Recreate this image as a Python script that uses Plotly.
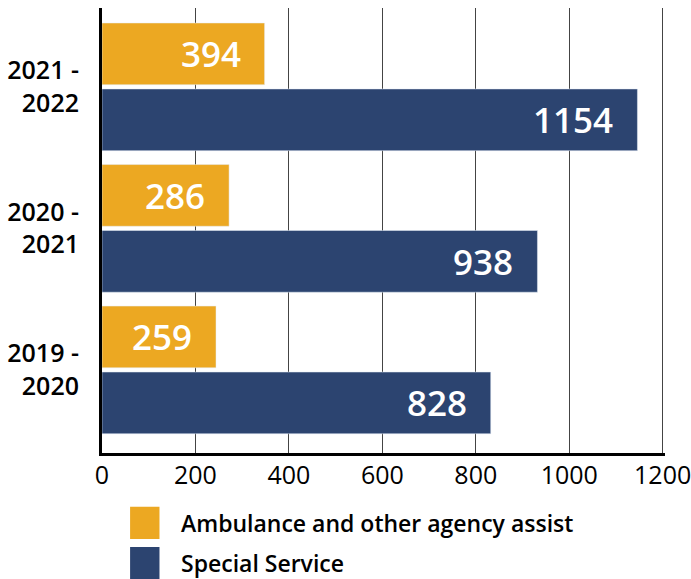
import plotly.graph_objects as go

# ---- data ----
periods = ["2019 -<br>2020", "2020 -<br>2021", "2021 -<br>2022"]
series_names = ["Ambulance and other agency assist", "Special Service"]
ambulance_bar = [244, 272, 348]        # bar lengths as drawn
ambulance_labels = ["259", "286", "394"]
special_bar = [832, 932, 1146]
special_labels = ["828", "938", "1154"]
x_ticks = [0, 200, 400, 600, 800, 1000, 1200]

ORANGE = "#ECA822"
NAVY = "#2C4470"
FONT = "Open Sans"
W = 600

fig = go.Figure()
fig.add_trace(go.Bar(y=periods, x=special_bar, orientation="h", marker_color=NAVY,
                     width=0.436, offset=-0.451, name=series_names[1], showlegend=False))
fig.add_trace(go.Bar(y=periods, x=ambulance_bar, orientation="h", marker_color=ORANGE,
                     width=0.436, offset=0.015, name=series_names[0], showlegend=False))

annotations = []
for p, v, t in zip(periods, ambulance_bar, ambulance_labels):
    annotations.append(dict(x=v, y=p, xref="x", yref="y", text=t, showarrow=False,
                            xanchor="right", yanchor="middle", xshift=-22, yshift=33,
                            font=dict(family=FONT, size=35, color="white", weight=W)))
for p, v, t in zip(periods, special_bar, special_labels):
    annotations.append(dict(x=v, y=p, xref="x", yref="y", text=t, showarrow=False,
                            xanchor="right", yanchor="middle", xshift=-22, yshift=-33,
                            font=dict(family=FONT, size=35, color="white", weight=W)))

# manual legend
legend_y = [-0.157, -0.247]
legend_colors = [ORANGE, NAVY]
shapes = []
for name, col, yc in zip(series_names, legend_colors, legend_y):
    shapes.append(dict(type="rect", xref="paper", yref="paper",
                       x0=0.0499, x1=0.1021, y0=yc - 0.036, y1=yc + 0.036,
                       fillcolor=col, line=dict(width=0)))
    annotations.append(dict(x=0.1373, y=yc, xref="paper", yref="paper", text=name,
                            showarrow=False, xanchor="left", yanchor="middle",
                            font=dict(family=FONT, size=23, color="black", weight=W)))

fig.update_layout(
    width=691, height=579,
    margin=dict(l=102, r=26, t=8, b=126),
    plot_bgcolor="white", paper_bgcolor="white",
    barmode="overlay",
    font=dict(family=FONT, color="black"),
    annotations=annotations, shapes=shapes,
    showlegend=False,
)
fig.update_xaxes(range=[0, 1205], tickvals=x_ticks, ticktext=[str(v) for v in x_ticks],
                 showgrid=True, gridcolor="#444", gridwidth=1.2,
                 showline=True, linecolor="black", linewidth=3,
                 zeroline=False, ticks="", ticklabelstandoff=-2,
                 ticklabeloverflow="allow", automargin=False,
                 tickfont=dict(family=FONT, size=25, color="black"))
fig.update_yaxes(type="category", categoryarray=periods, range=[-0.587, 2.557],
                 showgrid=False, showline=True, linecolor="black", linewidth=3,
                 ticks="", ticklabelstandoff=15, automargin=False,
                 ticklabeloverflow="allow",
                 tickfont=dict(family=FONT, size=25, color="black", weight=W))

fig.write_html("out.html")
